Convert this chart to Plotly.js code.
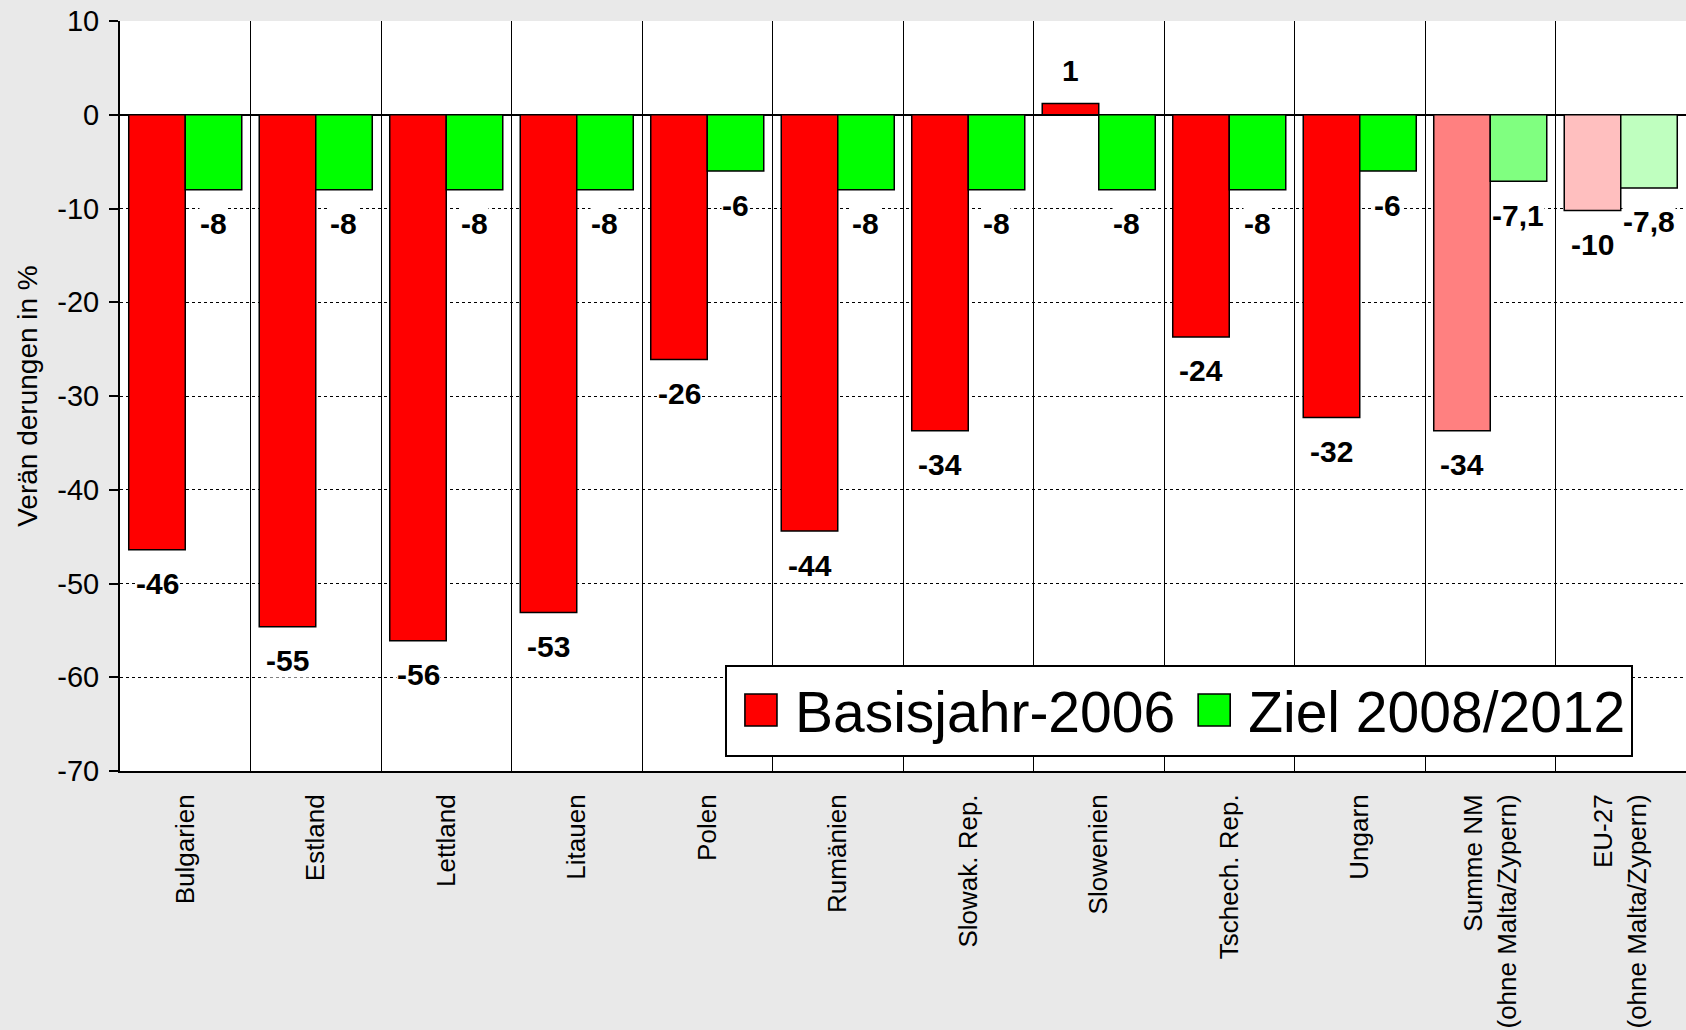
<!DOCTYPE html>
<html>
<head>
<meta charset="utf-8">
<script src="https://cdn.plot.ly/plotly-3.0.1.min.js"></script>
<style>
  html, body { margin: 0; padding: 0; background: #e9e9e9; }
  #chart { width: 1686px; height: 1030px; }
</style>
</head>
<body>
<div id="chart"></div>
<script>
// ---- data ----
const categories = [
  "Bulgarien", "Estland", "Lettland", "Litauen", "Polen", "Rumänien",
  "Slowak. Rep.", "Slowenien", "Tschech. Rep.", "Ungarn",
  "Summe NM<br>(ohne Malta/Zypern)", "EU-27<br>(ohne Malta/Zypern)"
];
const basisjahr2006 = [-46.4, -54.6, -56.1, -53.1, -26.1, -44.4, -33.7, 1.2, -23.7, -32.3, -33.7, -10.2];
const ziel20082012 = [-8, -8, -8, -8, -6, -8, -8, -8, -8, -6, -7.1, -7.8];
const basisLabels = ["-46", "-55", "-56", "-53", "-26", "-44", "-34", "1", "-24", "-32", "-34", "-10"];
const zielLabels = ["-8", "-8", "-8", "-8", "-6", "-8", "-8", "-8", "-8", "-6", "-7,1", "-7,8"];
const yTicks = [10, 0, -10, -20, -30, -40, -50, -60, -70];

// ---- styles ----
const redColors = categories.map((c, i) => i === 10 ? "#ff8080" : i === 11 ? "#ffbfbf" : "#ff0000");
const greenColors = categories.map((c, i) => i === 10 ? "#80ff80" : i === 11 ? "#bfffbf" : "#00ff00");
const FONT = "Arial, 'Liberation Sans', sans-serif";

const traces = [
  {
    type: "bar", name: "Basisjahr-2006", x: categories, y: basisjahr2006,
    marker: { color: redColors, line: { color: "#000000", width: 1.5 } },
    hoverinfo: "skip"
  },
  {
    type: "bar", name: "Ziel 2008/2012", x: categories, y: ziel20082012,
    marker: { color: greenColors, line: { color: "#000000", width: 1.5 } },
    hoverinfo: "skip"
  }
];

function makeLabels(values, labels, xshift) {
  return values.map((v, i) => ({
    x: categories[i], y: v, xref: "x", yref: "y",
    text: labels[i], showarrow: false,
    xshift: xshift, yshift: v < 0 ? -34 : 33,
    xanchor: "center", yanchor: "middle",
    bgcolor: "#ffffff", borderpad: 0,
    font: { family: FONT, size: 30, color: "#000000", weight: "bold" }
  }));
}

const annotations = makeLabels(basisjahr2006, basisLabels, -28)
  .concat(makeLabels(ziel20082012, zielLabels, 28));

const layout = {
  width: 1686, height: 1030,
  paper_bgcolor: "#e9e9e9", plot_bgcolor: "#ffffff",
  margin: { l: 120, r: 0, t: 21, b: 259 },
  font: { family: FONT, color: "#000000" },
  barmode: "group", bargap: 0.134, bargroupgap: 0,
  showlegend: true,
  legend: {
    orientation: "h", x: 0.3863, xanchor: "left", y: 0.142, yanchor: "top",
    bgcolor: "#ffffff", bordercolor: "#000000", borderwidth: 2,
    itemwidth: 58,
    font: { family: FONT, size: 57, color: "#000000" }
  },
  xaxis: {
    type: "category", tickson: "boundaries",
    showgrid: true, gridcolor: "#000000", gridwidth: 1,
    ticks: "", showline: true, linecolor: "#000000", linewidth: 2,
    tickangle: -90, ticklabelstandoff: 11,
    tickfont: { family: FONT, size: 26, color: "#000000" },
    automargin: false
  },
  yaxis: {
    range: [-70, 10], tickvals: yTicks, ticktext: yTicks.map(String),
    showgrid: true, gridcolor: "#000000", gridwidth: 1, griddash: "dot",
    zeroline: true, zerolinecolor: "#000000", zerolinewidth: 2,
    showline: true, linecolor: "#000000", linewidth: 2,
    ticks: "outside", ticklen: 9, tickwidth: 2, tickcolor: "#000000",
    ticklabelstandoff: 4,
    tickfont: { family: FONT, size: 29, color: "#000000" },
    title: { text: "Verän derungen in %", font: { family: FONT, size: 28, color: "#000000" }, standoff: 11 },
    automargin: false
  },
  annotations: annotations
};

Plotly.newPlot("chart", traces, layout, { staticPlot: true }).then(function (gd) {
  // enlarge the legend swatches to the reference's size, keeping their centre
  gd.querySelectorAll(".legendpoints path").forEach(function (p) {
    const t = p.getAttribute("transform") || "";
    p.setAttribute("transform", t + " scale(2.67)");
    p.style.strokeWidth = "0.6px";
  });
});
</script>
</body>
</html>
